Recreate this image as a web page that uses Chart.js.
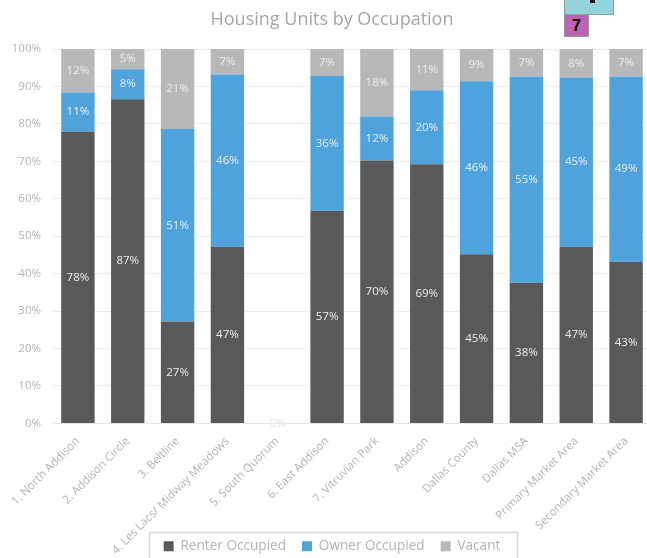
<!DOCTYPE html>
<html>
<head>
<meta charset="utf-8">
<style>
html, body { margin: 0; padding: 0; background: #fff; overflow: hidden; }
#wrap { position: relative; width: 647px; height: 558px; overflow: hidden; }
canvas { position: absolute; left: 0; top: 0; }
/* scrap of a map graphic that overlaps the corner of the chart */
.scrap { position: absolute; box-sizing: border-box; border: 1px solid #8f9a9c; }
#teal { left: 564px; top: -2px; width: 50px; height: 17px; background: #93d4de; }
#pink { left: 564px; top: 14px; width: 25px; height: 23px; background: #bf62b4; text-align: center;
  font: bold 16px/21px "Liberation Sans"; color: #000; }
#dot { position: absolute; left: 590px; top: 0; width: 5px; height: 3px; background: #111; }
</style>
<script src="https://cdn.jsdelivr.net/npm/chart.js@4"></script>
</head>
<body>
<div id="wrap">
  <canvas id="c" width="651" height="563"></canvas>
  <div class="scrap" id="teal"></div>
  <div class="scrap" id="pink">7</div>
  <div id="dot"></div>
</div>
<script>
const categories = ['1. North Addison', '2. Addison Circle', '3. Beltline', '4. Les Lacs/ Midway Meadows',
  '5. South Quorum', '6. East Addison', '7. Vitruvian Park', 'Addison', 'Dallas County', 'Dallas MSA',
  'Primary Market Area', 'Secondary Market Area']
const renter = [77.9, 86.6, 27.2, 47.2, 0, 56.8, 70.2, 69.2, 45.2, 37.6, 47.2, 43.2]
const owner = [10.5, 8.0, 51.4, 46.0, 0, 36.0, 11.8, 19.8, 46.2, 55.0, 45.2, 49.4]
const vacant = [11.6, 5.4, 21.4, 6.8, 0, 7.2, 18.0, 11.0, 8.6, 7.4, 7.6, 7.4]

const grey = '#b3b3b3'
const font = 'Open Sans'

// Excel style white percent labels in the middle of each segment
const segmentLabels = {
  id: 'segmentLabels',
  afterDatasetsDraw (chart) {
    const ctx = chart.ctx
    ctx.save()
    ctx.font = `11.5px "${font}"`
    ctx.fillStyle = '#ececec'
    ctx.textAlign = 'center'
    ctx.textBaseline = 'middle'
    chart.data.datasets.forEach((ds, i) => {
      chart.getDatasetMeta(i).data.forEach((bar, j) => {
        const p = bar.getProps(['x', 'y', 'base'], true)
        ctx.fillText(Math.round(ds.data[j]) + '%', p.x, (p.y + p.base) / 2)
      })
    })
    ctx.restore()
  }
}

// the legend sits in a thin box that runs off the bottom of the page
const legendBox = {
  id: 'legendBox',
  afterDraw (chart) {
    const ctx = chart.ctx
    ctx.save()
    ctx.strokeStyle = '#d9d9d9'
    ctx.lineWidth = 1.5
    ctx.strokeRect(149.5, 532.5, 368, 40)
    ctx.restore()
  }
}

// chart.js clips tick labels to the scale box, the long ones have to run past it
const noLabelClip = scale => { scale._computeLabelArea = () => undefined }

new Chart(document.getElementById('c'), {
  type: 'bar',
  data: {
    labels: categories,
    datasets: [
      { label: 'Renter Occupied', data: renter, backgroundColor: '#58595b' },
      { label: 'Owner Occupied', data: owner, backgroundColor: '#4ea3dc' },
      { label: 'Vacant', data: vacant, backgroundColor: '#b8b8ba' }
    ]
  },
  options: {
    responsive: false,
    animation: false,
    datasets: { bar: { categoryPercentage: 0.67, barPercentage: 1 } },
    layout: { padding: { left: 13, right: 0, top: 0, bottom: 0 } },
    plugins: {
      title: {
        display: true,
        text: 'Housing Units by Occupation',
        color: '#a6a6a6',
        font: { family: font, size: 18, weight: 'normal' },
        padding: { top: 9, bottom: 18.4 }
      },
      legend: {
        position: 'bottom',
        labels: {
          color: grey,
          font: { family: font, size: 13.6 },
          boxWidth: 10,
          boxHeight: 10,
          padding: 16
        }
      },
      tooltip: { enabled: false }
    },
    scales: {
      x: {
        stacked: true,
        grid: { display: false },
        border: { color: '#e6e6e6' },
        ticks: {
          color: grey,
          font: { family: font, size: 11.5 },
          maxRotation: 45,
          minRotation: 45,
          autoSkip: false
        },
        afterFit (scale) {
          scale.height = 100
          noLabelClip(scale)
        }
      },
      y: {
        stacked: true,
        min: 0,
        max: 100,
        grid: { color: '#ebebeb', drawTicks: false },
        border: { display: false },
        ticks: {
          stepSize: 10,
          color: grey,
          padding: 12,
          font: { family: font, size: 11.5 },
          callback: v => v + '%'
        },
        afterFit (scale) {
          scale.width = 40
          noLabelClip(scale)
        }
      }
    }
  },
  plugins: [segmentLabels, legendBox]
})
</script>
</body>
</html>
